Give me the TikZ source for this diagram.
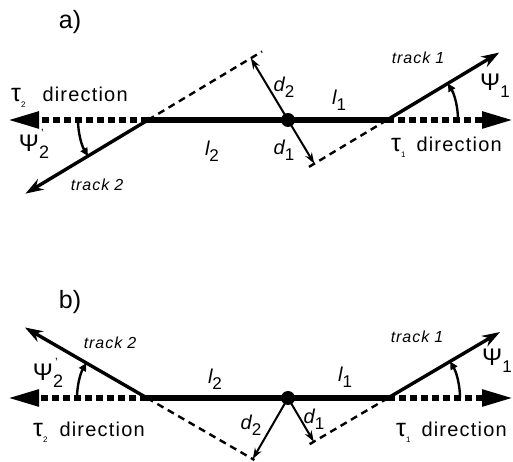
\documentclass[tikz,border=0pt]{standalone}
\usepackage{fontspec}
\setmainfont{Liberation Sans}
\newfontfamily\lsp[LetterSpace=6]{Liberation Sans}
\usetikzlibrary{arrows.meta,calc}
\newcommand\lowsub[1]{\raisebox{-0.3em}{\fontsize{17}{17}\selectfont\upshape #1}}
\newcommand\tausym[1]{{\fontsize{25}{25}\selectfont τ}\raisebox{-0.3em}{\fontsize{8}{8}\selectfont #1}}
\newcommand\psilbl[1]{\fontsize{24}{24}\selectfont Ψ\raisebox{-0.3em}{\fontsize{17}{17}\selectfont #1}}
\newcommand\psiprime{\fontsize{24}{24}\selectfont Ψ\makebox[0pt][l]{\raisebox{0.55em}{\fontsize{12}{12}\selectfont\hspace{2pt}'}}\raisebox{-0.3em}{\fontsize{18}{18}\selectfont 2}}
\begin{document}
\begin{tikzpicture}[x=1pt,y=1pt,
  baseline/.style={line width=5.5pt},
  thickdash/.style={line width=5.5pt,dash pattern=on 7pt off 4pt},
  thindash/.style={line width=2.4pt,dash pattern=on 7pt off 5pt},
  trk/.style={line width=3.4pt,-{Stealth[length=18pt,width=12pt]}},
  dvec/.style={line width=2pt,-{Stealth[length=11pt,width=7.5pt]}},
  angarr/.style={line width=2.4pt,-{Triangle[length=8pt,width=7.5pt]}},
  bigtip/.style={-{Triangle[length=31pt,width=16pt]}},
  dot/.style={circle,fill=black,inner sep=0pt,minimum size=14pt},
  lbl/.style={inner sep=0pt,font=\fontsize{20}{20}\selectfont},
  dirlbl/.style={inner sep=0pt,anchor=base west,font=\fontsize{20}{20}\selectfont\lsp},
  trklbl/.style={inner sep=0pt,font=\fontsize{16}{16}\selectfont\lsp\itshape},
  panel/.style={inner sep=0pt,font=\fontsize{25}{25}\selectfont}
]
\useasboundingbox (0,0) rectangle (513,462);

% ---------------- panel a ----------------
\coordinate (V2a) at (148,342);
\coordinate (V1a) at (387,342);
\coordinate (La) at (8,342);
\coordinate (Ra) at (513,342);
\coordinate (T1a) at ($(V1a)+(31:131)$);
\coordinate (T2a) at ($(V2a)+(211:143)$);
\coordinate (X2a) at ($(V2a)+(31:133)$);
\coordinate (X1a) at ($(V1a)+(211:92)$);
\coordinate (F2a) at ($(V2a)!(288,342)!(X2a)$);
\coordinate (F1a) at ($(V1a)!(288,342)!(X1a)$);
\coordinate (A2a) at ($(V2a)+(180:70)$);
\coordinate (A1a) at ($(V1a)+(0:71)$);

\draw[thickdash,bigtip] (V2a) -- (La);
\draw[thickdash,bigtip] (V1a) -- (Ra);
\draw[baseline] (V2a) -- (V1a);
\draw[thindash] (V2a) -- (X2a);
\draw[thindash] (V1a) -- (X1a);
\draw[trk] (V1a) -- (T1a);
\draw[trk] (V2a) -- (T2a);
\node[dot] (Da) at (288,342) {};
\draw[dvec] (Da.center) -- (F2a);
\draw[dvec] (Da.center) -- (F1a);
\draw[angarr] (A2a) arc[start angle=180,end angle=211,radius=70];
\draw[angarr] (A1a) arc[start angle=0,end angle=31,radius=71];

\node[panel] (pa) at (70,440) {a)};
\node[dirlbl] (tau2a) at (11,360) {\tausym{2}\hspace{17pt}direction};
\node[dirlbl] (tau1a) at (391,310) {\tausym{1}\hspace{11pt}direction};
\node[inner sep=0pt] (psi2a) at (34,318) {\psiprime};
\node[inner sep=0pt,anchor=west] (psi1a) at (480,376) {\psilbl{1}};
\node[lbl] (l2a) at (212,311) {\itshape l\lowsub{2}};
\node[lbl] (l1a) at (339,362) {\itshape l\lowsub{1}};
\node[lbl] (d2a) at (284,375) {\itshape d\lowsub{2}};
\node[lbl] (d1a) at (284,312) {\itshape d\lowsub{1}};
\node[trklbl] (tr2a) at (97,277) {track\hspace{5pt}2};
\node[trklbl] (tr1a) at (418,404) {track\hspace{5pt}1};

% ---------------- panel b ----------------
\coordinate (V2b) at (147,64);
\coordinate (V1b) at (388,64);
\coordinate (Lb) at (8,64);
\coordinate (Rb) at (513,64);
\coordinate (T1b) at ($(V1b)+(30.5:130)$);
\coordinate (T2b) at ($(V2b)+(150:141)$);
\coordinate (X2b) at ($(V2b)+(-30:124)$);
\coordinate (X1b) at ($(V1b)+(210.5:92)$);
\coordinate (F2b) at ($(V2b)!(288,64)!(X2b)$);
\coordinate (F1b) at ($(V1b)!(288,64)!(X1b)$);
\coordinate (A2b) at ($(V2b)+(180:70)$);
\coordinate (A1b) at ($(V1b)+(0:72)$);

\draw[thickdash,bigtip] (V2b) -- (Lb);
\draw[thickdash,bigtip] (V1b) -- (Rb);
\draw[baseline] (V2b) -- (V1b);
\draw[thindash] (V2b) -- (X2b);
\draw[thindash] (V1b) -- (X1b);
\draw[trk] (V1b) -- (T1b);
\draw[trk] (V2b) -- (T2b);
\node[dot] (Db) at (288,64) {};
\draw[dvec] (Db.center) -- (F2b);
\draw[dvec] (Db.center) -- (F1b);
\draw[angarr] (A2b) arc[start angle=180,end angle=150,radius=70];
\draw[angarr] (A1b) arc[start angle=0,end angle=30.5,radius=72];

\node[panel] (pb) at (70,160) {b)};
\node[dirlbl] (tau2b) at (33,25) {\tausym{2}\hspace{12pt}direction};
\node[dirlbl] (tau1b) at (396,25) {\tausym{1}\hspace{11pt}direction};
\node[inner sep=0pt] (psi2b) at (48,89) {\psiprime};
\node[inner sep=0pt,anchor=west] (psi1b) at (482,101) {\psilbl{1}};
\node[lbl] (l2b) at (215,83) {\itshape l\lowsub{2}};
\node[lbl] (l1b) at (345,85) {\itshape l\lowsub{1}};
\node[lbl] (d2b) at (251,37) {\itshape d\lowsub{2}};
\node[lbl] (d1b) at (314,43) {\itshape d\lowsub{1}};
\node[trklbl] (tr2b) at (110,119) {track\hspace{5pt}2};
\node[trklbl] (tr1b) at (417,125) {track\hspace{5pt}1};
\end{tikzpicture}
\end{document}
